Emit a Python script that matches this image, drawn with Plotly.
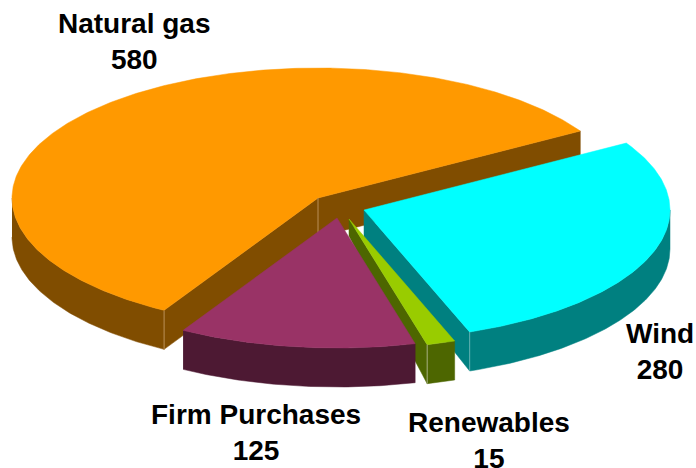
import numpy as np
import plotly.graph_objects as go

# slices, in the order they run clockwise from the start angle
labels = ["Natural gas", "Wind", "Renewables", "Firm Purchases"]
values = [580, 280, 15, 125]
top_colors = ["#FF9900", "#00FFFF", "#99CC00", "#993366"]
side_colors = ["#804D00", "#008080", "#4D6600", "#4D1933"]
seam_colors = ["#B98F56", "#5FB0B0", "#A3AE7C", "#4D1933"]

# apex of each slice once exploded, px
apex_x = [318, 364, 349, 337]
apex_y = [198, 210, 219, 218]
apex_depth = [39, 28, 17, 39]

label_x = [134, 660, 489, 256]
label_y = [41, 351, 440, 432]

RX, RY = 306, 130
DEPTH = 39
START = 31


def rim(cx, cy, a0, a1):
    t = np.radians(np.linspace(a0, a1, max(2, int(abs(a1 - a0) * 2))))
    return cx + RX * np.cos(t), cy - RY * np.sin(t)


def poly(xs, ys, color):
    return go.Scatter(x=xs, y=ys, mode="lines", fill="toself", fillcolor=color,
                      line=dict(color=color, width=0.5), hoverinfo="skip", showlegend=False)


def seam(x, y0, y1, color):
    return go.Scatter(x=[x, x], y=[y0, y1], mode="lines", line=dict(color=color, width=1),
                      hoverinfo="skip", showlegend=False)


# work out sweep angles from the values (natural gas runs counter-clockwise)
total = sum(values)
sweeps = [v / total * 360 for v in values]
spans = {}
spans["Natural gas"] = (START, START + sweeps[0])
spans["Wind"] = (START - sweeps[1], START)
firm_end = START + sweeps[0] + sweeps[3]
spans["Firm Purchases"] = (START + sweeps[0], firm_end)
spans["Renewables"] = (firm_end, firm_end + sweeps[2])

fig = go.Figure()

# back to front
for i in [0, 1, 2, 3]:
    a0, a1 = spans[labels[i]]
    cx, cy, ad = apex_x[i], apex_y[i], apex_depth[i]

    # flat cut faces that look towards the viewer
    faces = []
    if labels[i] == "Natural gas":
        faces = [a0, a1]
    elif labels[i] == "Wind":
        faces = [a0]
    elif labels[i] == "Renewables":
        faces = [a0]
    for a in faces:
        rx, ry = rim(cx, cy, a, a)
        rx, ry = rx[0], ry[0]
        fig.add_trace(poly([cx, rx, rx, cx, cx], [cy, ry, ry + DEPTH, cy + ad, cy], side_colors[i]))

    # outer wall, only the part under the front half of the ellipse
    w0 = a0
    w1 = a1
    if labels[i] == "Natural gas":
        w0 = 180
    if labels[i] == "Wind":
        w1 = 0
    wx, wy = rim(cx, cy, w0, w1)
    fig.add_trace(poly(np.r_[wx, wx[::-1]], np.r_[wy, wy[::-1] + DEPTH], side_colors[i]))

    # top surface
    tx, ty = rim(cx, cy, a0, a1)
    fig.add_trace(poly(np.r_[cx, tx, cx], np.r_[cy, ty, cy], top_colors[i]))

    # light seam down the corner where the cut face meets the wall
    if labels[i] != "Firm Purchases":
        sa = a1 if labels[i] == "Natural gas" else a0
        sx, sy = rim(cx, cy, sa, sa)
        fig.add_trace(seam(sx[0], sy[0], sy[0] + DEPTH, seam_colors[i]))
    if labels[i] == "Natural gas":
        fig.add_trace(seam(cx, cy, cy + DEPTH, seam_colors[i]))

for i, name in enumerate(labels):
    fig.add_annotation(x=label_x[i], y=label_y[i], text=f"<b>{name}</b><br><b>{values[i]}</b>",
                       showarrow=False, align="center",
                       font=dict(family="Liberation Sans", size=28, color="black"))

fig.update_xaxes(range=[0, 696], visible=False, fixedrange=True)
fig.update_yaxes(range=[468, 0], visible=False, fixedrange=True)
fig.update_layout(width=696, height=468, margin=dict(l=0, r=0, t=0, b=0),
                  plot_bgcolor="white", paper_bgcolor="white", showlegend=False)

fig.write_html("out.html", config={"displayModeBar": False},
               post_script="document.body.style.margin='0';")
